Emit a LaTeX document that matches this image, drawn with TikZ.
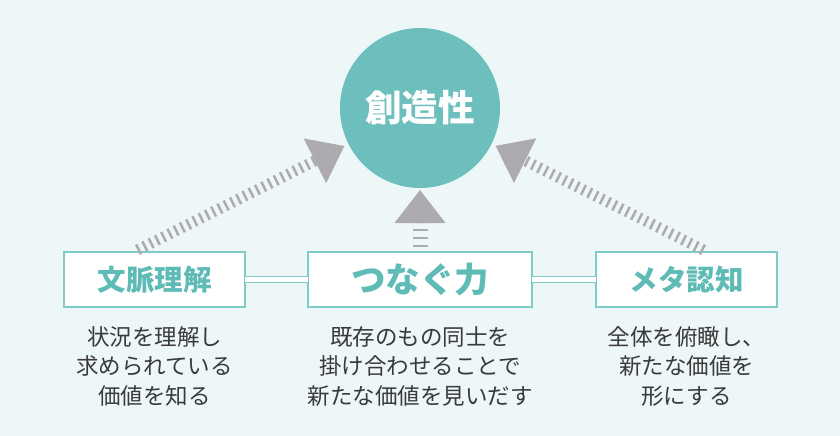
\documentclass[tikz,border=0pt]{standalone}
\usepackage{fontspec}
\setmainfont{Noto Sans CJK JP}
\usetikzlibrary{arrows.meta,positioning}
\definecolor{bgmint}{HTML}{EEF7F8}
\definecolor{coreteal}{HTML}{6CBFBC}
\definecolor{tealtxt}{HTML}{5FBBB6}
\definecolor{tealline}{HTML}{7FCBC7}
\definecolor{hintgray}{HTML}{ADABB0}
\definecolor{notetxt}{HTML}{3A3A3A}
\tikzset{
core/.style={circle,fill=coreteal,minimum size=160pt,inner sep=0,outer sep=0,text=white,font=\fontsize{36.5}{40}\selectfont\bfseries},
skill/.style={draw=tealline,line width=1.2pt,fill=white,minimum width=181pt,minimum height=55pt,inner sep=0,outer sep=0,text=tealtxt,font=\fontsize{28.5}{30}\selectfont\bfseries},
keyskill/.style={skill,line width=2pt,minimum width=224pt,font=\fontsize{34.5}{36}\selectfont\bfseries},
note/.style={align=center,inner sep=0,text=notetxt,font=\fontsize{22.5}{29.5}\selectfont},
link/.style={draw=tealline,line width=1.3pt,double=white,double distance=4.5pt},
hint/.style={draw=hintgray,line width=11pt,dash pattern=on 2.5pt off 4.5pt,-{Triangle[length=33pt,width=50pt,line width=0pt,fill=hintgray]}}
}
\begin{document}
\begin{tikzpicture}[x=1pt,y=-1pt]
\fill[bgmint](0,0)rectangle(840,436);
\node[keyskill](tsu)at(420,279.5){つなぐ力};
\node[skill,left=63pt of tsu](ctx){文脈理解};
\node[skill,right=64pt of tsu](meta){メタ認知};
\node[core,above=64pt of tsu](crea){創造性};
\node[note,below=19pt of ctx](ctxnote){状況を理解し\\求められている\\価値を知る};
\node[note,below=19pt of tsu](tsunote){既存のもの同士を\\掛け合わせることで\\新たな価値を見いだす};
\node[note,below=19pt of meta](metanote){全体を俯瞰し、\\新たな価値を\\形にする};
\draw[link](ctx)--(tsu);\draw[link](tsu)--(meta);
\draw[hint,shorten >=4.6pt]([xshift=-17pt,yshift=2pt]ctx.north)--(crea);
\draw[hint,shorten >=4.6pt]([xshift=17pt,yshift=2pt]meta.north)--(crea);
\draw[hint,line width=15pt,dash pattern=on 2.5pt off 5.5pt,shorten <=5pt,shorten >=2pt,-{Triangle[length=33pt,width=51pt,line width=0pt,fill=hintgray]}](tsu)--(crea);
\end{tikzpicture}
\end{document}
